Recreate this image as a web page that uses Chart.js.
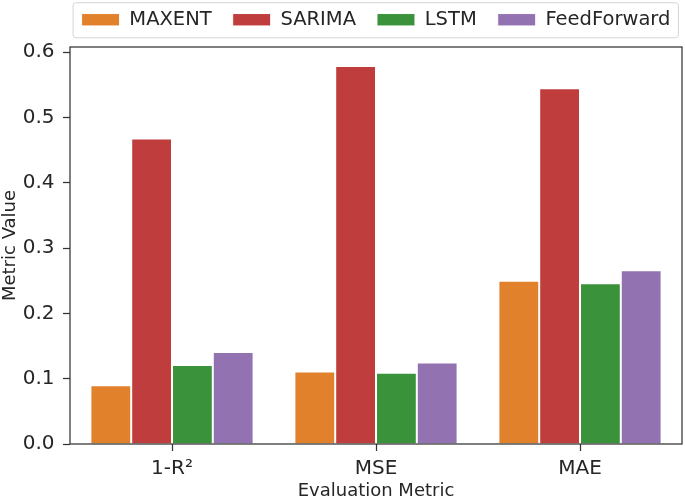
<!DOCTYPE html>
<html><head><meta charset="utf-8">
<script src="https://cdn.jsdelivr.net/npm/chart.js@4.4.1/dist/chart.umd.min.js"></script>
<style>html,body{margin:0;padding:0;background:#fff;}#wrap{width:685px;height:502px;}</style>
</head><body><div id="wrap"><canvas id="c" width="685" height="502"></canvas></div>
<script>
// ---- data ----
const categories = ['1-R²', 'MSE', 'MAE'];
const seriesNames = ['MAXENT', 'SARIMA', 'LSTM', 'FeedForward'];
const maxentValues = [0.090, 0.111, 0.250];
const sarimaValues = [0.468, 0.579, 0.545];
const lstmValues = [0.121, 0.109, 0.246];
const feedForwardValues = [0.141, 0.125, 0.266];
const yTickValues = [0.0, 0.1, 0.2, 0.3, 0.4, 0.5, 0.6];
const xTitle = 'Evaluation Metric';
const yTitle = 'Metric Value';

const seriesColors = ['#E1812C', '#C03D3E', '#3A923A', '#9372B2'];
const seriesValues = [maxentValues, sarimaValues, lstmValues, feedForwardValues];
const FONT = "'DejaVu Sans', sans-serif";
const TXT = '#262626';

const datasets = seriesNames.map((name, i) => ({
  label: name,
  data: seriesValues[i],
  backgroundColor: seriesColors[i],
  borderColor: '#ffffff',
  borderWidth: 1,
  borderSkipped: 'bottom',
  categoryPercentage: 0.8,
  barPercentage: 1.0
}));

const LEGEND_GAP = 7.5;
const legendGap = {
  id: 'legendGap',
  beforeLayout(chart) {
    const lg = chart.legend;
    if (lg && !lg._gapPatched) {
      const origFit = lg.fit;
      lg.fit = function () {
        const mw = this.maxWidth;
        this.maxWidth = 10000;
        origFit.call(this);
        this.maxWidth = mw;
        this.width = Math.min(this.width, mw);
        this.height += LEGEND_GAP;
      };
      const origDraw = lg.draw;
      lg.draw = function () {
        const l = this.left, r = this.right;
        this.left = l - 60; this.right = r + 60;
        origDraw.apply(this, arguments);
        this.left = l; this.right = r;
      };
      lg._gapPatched = true;
    }
  }
};

const frames = {
  id: 'frames',
  afterDatasetsDraw(chart) {
    const {ctx, chartArea: a} = chart;
    ctx.save();
    ctx.strokeStyle = '#333333';
    ctx.lineWidth = 1.25;
    ctx.strokeRect(a.left, a.top, a.right - a.left, a.bottom - a.top);
    ctx.restore();
  },
  afterDraw(chart) {
    const lg = chart.legend;
    if (!lg || !lg.legendHitBoxes || !lg.legendHitBoxes.length) return;
    const hb = lg.legendHitBoxes;
    const first = hb[0], last = hb[hb.length - 1];
    const cy = first.top + first.height / 2;
    const x0 = first.left - 8.5, x1 = last.left + last.width + 8;
    const y0 = cy - 17, y1 = cy + 18;
    const r = 3;
    const ctx = chart.ctx;
    ctx.save();
    ctx.strokeStyle = '#d4d4d4';
    ctx.lineWidth = 1;
    ctx.beginPath();
    ctx.moveTo(x0 + r, y0);
    ctx.lineTo(x1 - r, y0); ctx.quadraticCurveTo(x1, y0, x1, y0 + r);
    ctx.lineTo(x1, y1 - r); ctx.quadraticCurveTo(x1, y1, x1 - r, y1);
    ctx.lineTo(x0 + r, y1); ctx.quadraticCurveTo(x0, y1, x0, y1 - r);
    ctx.lineTo(x0, y0 + r); ctx.quadraticCurveTo(x0, y0, x0 + r, y0);
    ctx.stroke();
    ctx.restore();
  }
};

new Chart(document.getElementById('c'), {
  type: 'bar',
  data: { labels: categories, datasets },
  options: {
    responsive: false,
    animation: false,
    devicePixelRatio: 1,
    layout: { padding: { top: -11, right: 3, bottom: 0, left: 0 } },
    plugins: {
      legend: {
        position: 'top',
        fullSize: false,
        labels: {
          font: { family: FONT, size: 19.5 },
          color: TXT,
          boxWidth: 38,
          boxHeight: 12.4,
          padding: 21
        }
      },
      tooltip: { enabled: false }
    },
    scales: {
      x: {
        offset: true,
        afterFit: (s) => { s.height = 58; },
        grid: { display: true, drawOnChartArea: false, offset: false, drawTicks: true, tickLength: 7, tickColor: '#333333', tickWidth: 1.25 },
        border: { display: false },
        ticks: { font: { family: FONT, size: 20 }, color: TXT, padding: 6, maxRotation: 0 },
        title: { display: true, text: xTitle, font: { family: FONT, size: 18 }, color: TXT, padding: { top: 0, bottom: 0 } }
      },
      y: {
        min: 0,
        max: 0.608,
        afterFit: (s) => { s.width = 70; },
        afterBuildTicks: (s) => { s.ticks = yTickValues.map(v => ({ value: v })); },
        grid: { display: true, drawOnChartArea: false, drawTicks: true, tickLength: 7, tickColor: '#333333', tickWidth: 1.25 },
        border: { display: false },
        ticks: { font: { family: FONT, size: 20 }, color: TXT, padding: 8.5, callback: (v) => Number(v).toFixed(1) },
        title: { display: true, text: yTitle, font: { family: FONT, size: 18 }, color: TXT, padding: { top: 0, bottom: 0 } }
      }
    }
  },
  plugins: [legendGap, frames]
});
</script></body></html>
